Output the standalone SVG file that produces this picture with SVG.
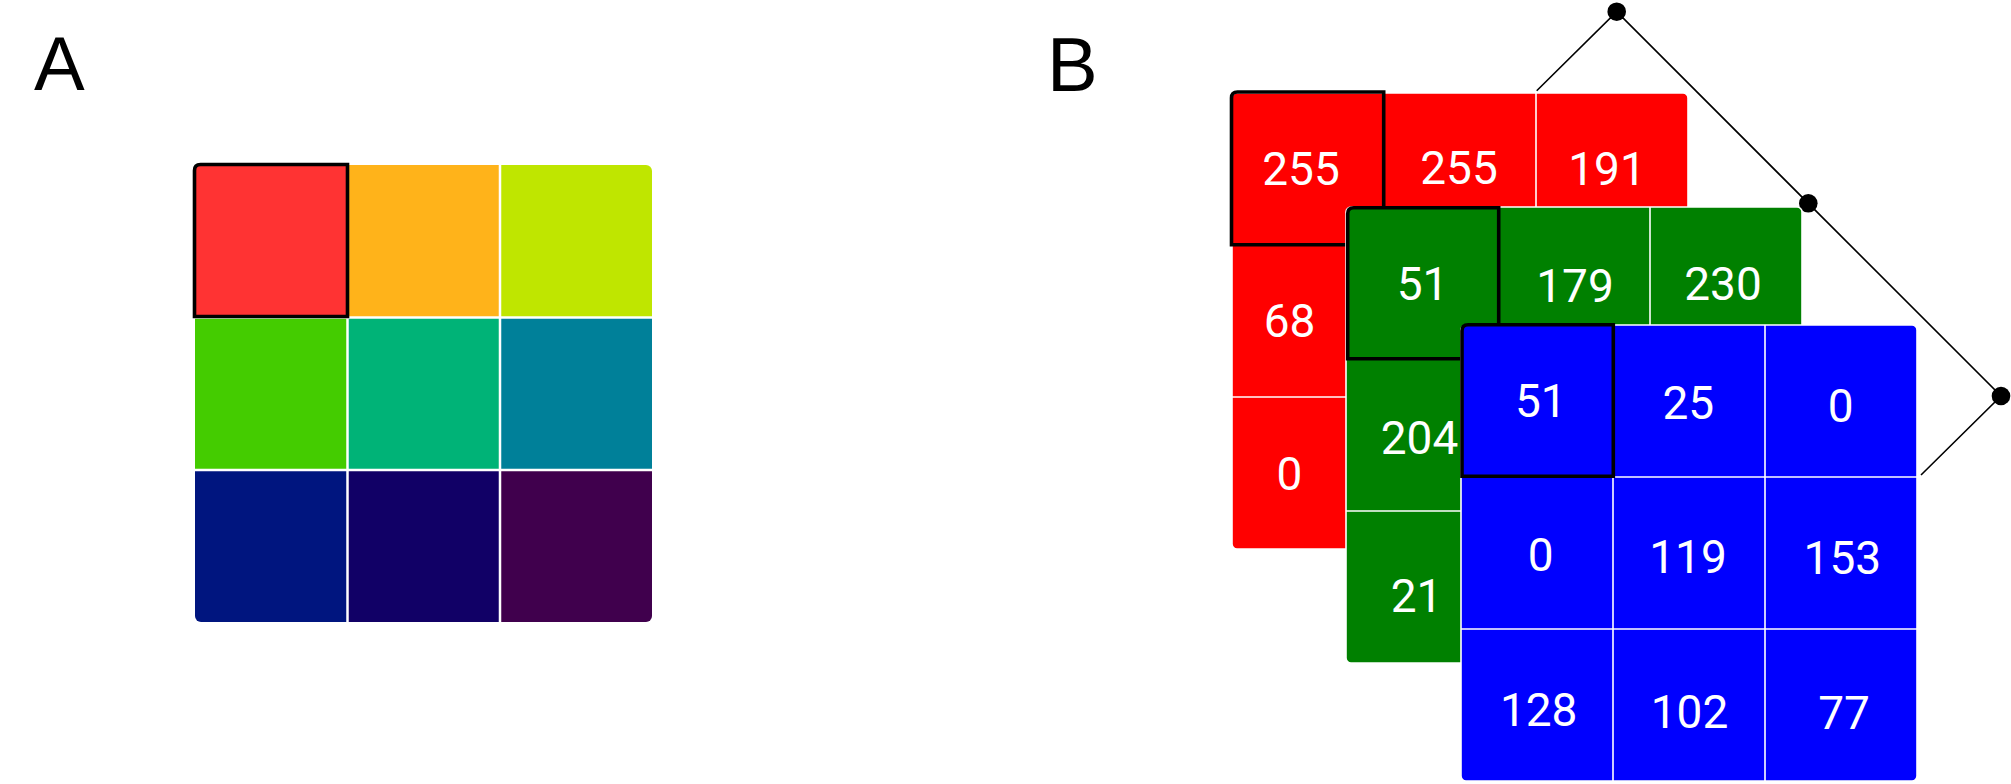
<svg xmlns="http://www.w3.org/2000/svg" width="2011" height="784" viewBox="0 0 2011 784">
<style>
.lbl{font-family:"Liberation Sans",Arial,sans-serif;font-size:76px;fill:#000}
.num{font-family:Roboto,"Liberation Sans",sans-serif;font-size:46px;fill:#fff;text-anchor:middle}
.div{stroke:#fff;stroke-width:2.5}
.divb{stroke:#fff;stroke-width:1.6}
.frame{fill:none;stroke:#000;stroke-width:3.6;stroke-linejoin:miter}
.conn{fill:none;stroke:#000;stroke-width:1.6}
.dot{fill:#000}
</style>
<defs>
<clipPath id="clipA"><rect x="195" y="165" width="457" height="457" rx="6" ry="6"/></clipPath>
</defs>
<rect width="2011" height="784" fill="#fff"/>
<text class="lbl" x="34" y="90">A</text>
<text class="lbl" x="1047" y="91">B</text>
<g id="panelA">
<g clip-path="url(#clipA)">
<rect x="195" y="165" width="153" height="153" fill="#FF3333"/>
<rect x="347.5" y="165" width="153" height="153" fill="#FFB31A"/>
<rect x="500" y="165" width="152" height="153" fill="#BFE600"/>
<rect x="195" y="317.5" width="153" height="153" fill="#44CC00"/>
<rect x="347.5" y="317.5" width="153" height="153" fill="#00B377"/>
<rect x="500" y="317.5" width="152" height="153" fill="#008099"/>
<rect x="195" y="470" width="153" height="152" fill="#00157F"/>
<rect x="347.5" y="470" width="153" height="152" fill="#110066"/>
<rect x="500" y="470" width="152" height="152" fill="#40004D"/>
</g>
<line class="div" x1="347.5" y1="165" x2="347.5" y2="622"/>
<line class="div" x1="500" y1="165" x2="500" y2="622"/>
<line class="div" x1="195" y1="317.5" x2="652" y2="317.5"/>
<line class="div" x1="195" y1="470" x2="652" y2="470"/>
<path class="frame" d="M194.5,316.5 V170.5 Q194.5,164.5 200.5,164.5 H347.5 V316.5 Z"/>
</g>
<g id="connectors">
<polyline class="conn" points="1536.7,90.7 1616.7,11.7 2001,396 1921,475"/>
<circle class="dot" cx="1616.7" cy="11.7" r="9.3"/>
<circle class="dot" cx="1808.3" cy="203.3" r="9.3"/>
<circle class="dot" cx="2001" cy="396" r="9.3"/>
</g>
<g id="layerR">
<rect x="1232" y="93" width="456" height="456" rx="5" fill="#FF0000" stroke="#fff" stroke-width="1.6"/>
<line class="divb" x1="1384" y1="93" x2="1384" y2="549"/>
<line class="divb" x1="1536" y1="93" x2="1536" y2="549"/>
<line class="divb" x1="1232" y1="245" x2="1688" y2="245"/>
<line class="divb" x1="1232" y1="397" x2="1688" y2="397"/>
<text class="num" x="1301" y="185">255</text>
<text class="num" x="1459" y="184">255</text>
<text class="num" x="1607" y="185">191</text>
<text class="num" x="1289.5" y="336.5">68</text>
<text class="num" x="1289.5" y="489.5">0</text>
<path class="frame" d="M1231.5,244.7 V98 Q1231.5,92 1237.5,92 H1383.7 V244.7 Z"/>
</g>
<g id="layerG">
<rect x="1346" y="207" width="456" height="456" rx="5" fill="#008000" stroke="#fff" stroke-width="1.6"/>
<line class="divb" x1="1498" y1="207" x2="1498" y2="663"/>
<line class="divb" x1="1650" y1="207" x2="1650" y2="663"/>
<line class="divb" x1="1346" y1="359" x2="1802" y2="359"/>
<line class="divb" x1="1346" y1="511" x2="1802" y2="511"/>
<text class="num" x="1422.5" y="300">51</text>
<text class="num" x="1575" y="301.5">179</text>
<text class="num" x="1723" y="300">230</text>
<text class="num" x="1419.5" y="453.5">204</text>
<text class="num" x="1416.5" y="611.5">21</text>
<path class="frame" d="M1347.7,358.7 V213.7 Q1347.7,207.7 1353.7,207.7 H1498.7 V358.7 Z"/>
</g>
<g id="layerB">
<rect x="1461" y="325" width="456" height="456" rx="5" fill="#0000FF" stroke="#fff" stroke-width="1.6"/>
<line class="divb" x1="1613" y1="325" x2="1613" y2="781"/>
<line class="divb" x1="1765" y1="325" x2="1765" y2="781"/>
<line class="divb" x1="1461" y1="477" x2="1917" y2="477"/>
<line class="divb" x1="1461" y1="629" x2="1917" y2="629"/>
<text class="num" x="1540.8" y="416.7">51</text>
<text class="num" x="1688.3" y="419.3">25</text>
<text class="num" x="1840.8" y="421.7">0</text>
<text class="num" x="1540.7" y="570.7">0</text>
<text class="num" x="1688" y="572.7">119</text>
<text class="num" x="1842.4" y="574">153</text>
<text class="num" x="1538.7" y="726">128</text>
<text class="num" x="1689.5" y="728.3">102</text>
<text class="num" x="1844" y="729.3">77</text>
<path class="frame" d="M1462,476.3 V330.7 Q1462,324.7 1468,324.7 H1613.3 V476.3 Z"/>
</g>
</svg>
